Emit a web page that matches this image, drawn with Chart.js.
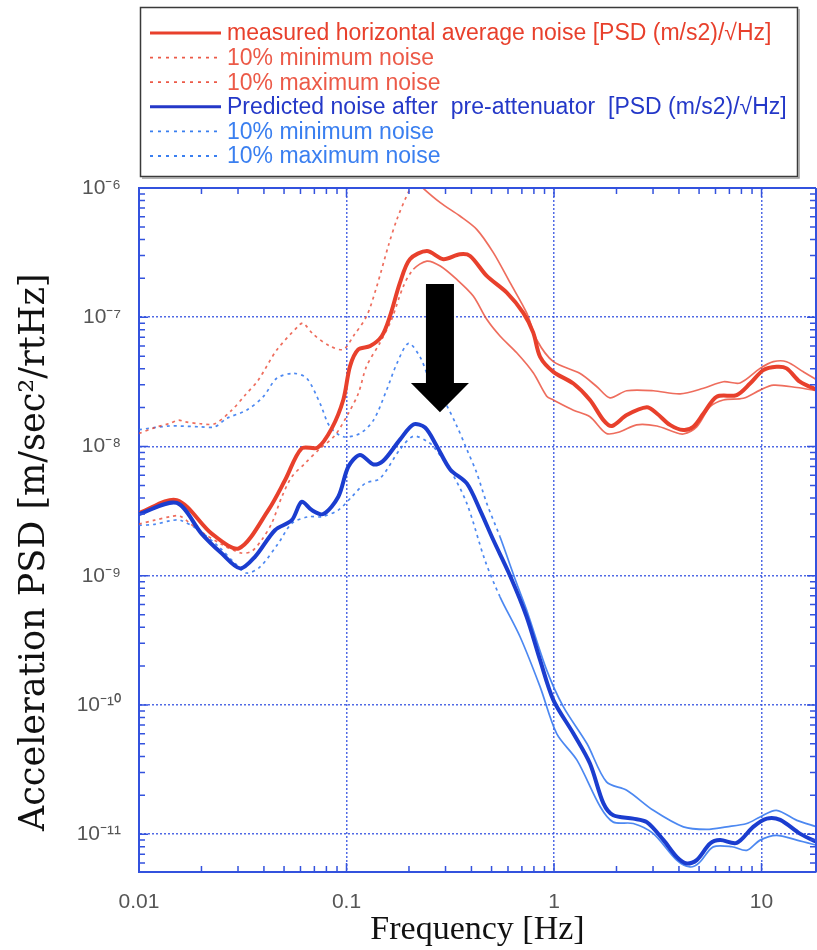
<!DOCTYPE html>
<html>
<head>
<meta charset="utf-8">
<script src="https://cdn.jsdelivr.net/npm/chart.js@4.4.1/dist/chart.umd.min.js"></script>
<style>
  html, body { margin: 0; padding: 0; background: #fff; }
  #wrap { width: 817px; height: 950px; }
</style>
</head>
<body>
<div id="wrap"><canvas id="psd" width="817" height="950"></canvas></div>
<script>
// measured horizontal noise (red)
const measAvgFreq = [0.01, 0.0152, 0.0224, 0.0303, 0.042, 0.0506, 0.0608, 0.0726, 0.0849, 0.0966, 0.104, 0.114, 0.130, 0.148, 0.162, 0.181, 0.202, 0.244, 0.293, 0.352, 0.394, 0.474, 0.592, 0.711, 0.794, 0.857, 0.993, 1.24, 1.49, 1.73, 1.90, 2.24, 2.80, 3.13, 3.62, 4.20, 4.69, 5.25, 6.08, 7.59, 8.80, 10.2, 11.8, 13.2, 15.3, 17.8, 19];
const measAvg = [3.05e-9, 3.85e-9, 2.12e-9, 1.63e-9, 3.22e-9, 5.5e-9, 9.66e-9, 9.8e-9, 1.38e-8, 2.31e-8, 4.19e-8, 5.64e-8, 5.98e-8, 7.16e-8, 1.02e-7, 1.85e-7, 2.81e-7, 3.25e-7, 2.81e-7, 3.07e-7, 2.98e-7, 2.09e-7, 1.55e-7, 1.08e-7, 7.6e-8, 4.94e-8, 3.78e-8, 3.07e-8, 2.29e-8, 1.60e-8, 1.44e-8, 1.75e-8, 2.01e-8, 1.80e-8, 1.47e-8, 1.34e-8, 1.42e-8, 1.80e-8, 2.43e-8, 2.50e-8, 3.07e-8, 3.90e-8, 4.14e-8, 4.02e-8, 3.17e-8, 2.82e-8, 2.75e-8];

const measMinFreq = [0.01, 0.0119, 0.0141, 0.0158, 0.019, 0.025, 0.031, 0.035, 0.039, 0.0436, 0.0488, 0.0545, 0.063, 0.0732, 0.088, 0.102, 0.114, 0.125, 0.145, 0.165, 0.188, 0.210, 0.244, 0.283, 0.340, 0.408, 0.474, 0.549, 0.661, 0.794, 0.922, 0.993, 1.24, 1.49, 1.79, 2.08, 2.50, 3.13, 3.76, 4.20, 4.87, 5.65, 6.55, 8.17, 9.84, 11.4, 14.8, 18.5, 19];
const measMin = [2.51e-9, 2.69e-9, 2.86e-9, 2.89e-9, 2.3e-9, 1.75e-9, 1.5e-9, 1.55e-9, 1.89e-9, 2.54e-9, 4.08e-9, 5.83e-9, 7.39e-9, 9.38e-9, 1.22e-8, 1.80e-8, 2.57e-8, 4.19e-8, 6.35e-8, 9.64e-8, 1.74e-7, 2.35e-7, 2.72e-7, 2.49e-7, 1.96e-7, 1.46e-7, 9.64e-8, 7.16e-8, 5.31e-8, 3.72e-8, 2.45e-8, 2.29e-8, 1.91e-8, 1.70e-8, 1.26e-8, 1.30e-8, 1.47e-8, 1.44e-8, 1.30e-8, 1.25e-8, 1.42e-8, 2.03e-8, 2.29e-8, 2.36e-8, 2.73e-8, 2.98e-8, 2.86e-8, 2.70e-8, 2.68e-8];

const measMaxFreq = [0.01, 0.0119, 0.0141, 0.0155, 0.0167, 0.0197, 0.0232, 0.028, 0.0325, 0.0376, 0.0461, 0.0597, 0.062, 0.0692, 0.0832, 0.0966, 0.108, 0.125, 0.140, 0.159, 0.175, 0.200, 0.215, 0.230, 0.283, 0.352, 0.424, 0.510, 0.614, 0.738, 0.826, 0.993, 1.33, 1.61, 1.86, 2.24, 3.01, 4.05, 5.25, 6.55, 7.88, 9.84, 11.4, 13.2, 15.9, 18.5, 19];
const measMax = [1.26e-8, 1.40e-8, 1.51e-8, 1.60e-8, 1.55e-8, 1.50e-8, 1.50e-8, 1.91e-8, 2.50e-8, 3.27e-8, 5.57e-8, 8.8e-8, 9.0e-8, 7.38e-8, 5.98e-8, 5.64e-8, 7.16e-8, 1.02e-7, 1.74e-7, 3.56e-7, 5.73e-7, 9.5e-7, 1.15e-6, 1.02e-6, 7.7e-7, 6.07e-7, 4.79e-7, 3.16e-7, 1.85e-7, 1.08e-7, 6.67e-8, 4.53e-8, 3.68e-8, 2.90e-8, 2.38e-8, 2.70e-8, 2.70e-8, 2.55e-8, 2.82e-8, 3.17e-8, 3.1e-8, 4.02e-8, 4.53e-8, 4.53e-8, 3.78e-8, 3.27e-8, 3.2e-8];

// predicted noise after pre-attenuator (blue)
const predAvgFreq = [0.01, 0.0152, 0.02, 0.025, 0.0307, 0.0362, 0.0452, 0.0545, 0.0608, 0.068, 0.0773, 0.0913, 0.102, 0.116, 0.135, 0.150, 0.181, 0.210, 0.239, 0.272, 0.316, 0.380, 0.440, 0.510, 0.614, 0.738, 0.857, 0.993, 1.24, 1.49, 1.73, 1.93, 2.41, 2.80, 3.37, 3.90, 4.36, 4.87, 5.65, 6.31, 7.59, 9.12, 10.6, 12.3, 15.3, 18.5, 19];
const predAvg = [3.0e-9, 3.66e-9, 2.12e-9, 1.49e-9, 1.14e-9, 1.40e-9, 2.25e-9, 2.69e-9, 3.73e-9, 3.22e-9, 3.0e-9, 4.08e-9, 6.97e-9, 8.6e-9, 7.26e-9, 7.71e-9, 1.13e-8, 1.48e-8, 1.40e-8, 1.01e-8, 6.65e-9, 5.18e-9, 3.22e-9, 1.89e-9, 1.0e-9, 4.81e-10, 2.22e-10, 1.09e-10, 6.01e-11, 3.52e-11, 1.73e-11, 1.40e-11, 1.32e-11, 1.24e-11, 9.0e-12, 6.68e-12, 5.93e-12, 6.3e-12, 8.47e-12, 9.0e-12, 8.57e-12, 1.14e-11, 1.32e-11, 1.29e-11, 1.01e-11, 8.7e-12, 8.6e-12];

const predMinFreq = [0.01, 0.0119, 0.0141, 0.0158, 0.019, 0.024, 0.029, 0.033, 0.0383, 0.0469, 0.0545, 0.0655, 0.0759, 0.0913, 0.106, 0.123, 0.145, 0.181, 0.210, 0.244, 0.262, 0.316, 0.380, 0.466, 0.549, 0.686, 0.857, 1.03, 1.29, 1.67, 1.93, 2.41, 3.01, 3.90, 4.52, 5.0, 5.85, 7.2, 8.49, 9.84, 11.8, 14.8, 18.5, 19];
const predMin = [2.45e-9, 2.5e-9, 2.66e-9, 2.69e-9, 2.3e-9, 1.7e-9, 1.25e-9, 1.05e-9, 1.17e-9, 1.78e-9, 2.54e-9, 2.86e-9, 2.86e-9, 3.22e-9, 4.08e-9, 5.18e-9, 5.66e-9, 9.5e-9, 1.2e-8, 1.10e-8, 1.0e-8, 6.56e-9, 3.63e-9, 1.3e-9, 6.87e-10, 3.37e-10, 1.38e-10, 6.0e-11, 3.74e-11, 1.63e-11, 1.24e-11, 1.21e-11, 1.01e-11, 6.3e-12, 5.58e-12, 6.0e-12, 7.98e-12, 8.0e-12, 7.5e-12, 9.0e-12, 9.8e-12, 9.0e-12, 8.2e-12, 8.1e-12];

const predMaxFreq = [0.01, 0.0141, 0.0197, 0.0232, 0.0265, 0.033, 0.0397, 0.0461, 0.0555, 0.0643, 0.0745, 0.0832, 0.0966, 0.116, 0.135, 0.156, 0.175, 0.199, 0.226, 0.252, 0.293, 0.340, 0.380, 0.424, 0.474, 0.549, 0.661, 0.738, 0.922, 1.11, 1.44, 1.79, 2.24, 3.01, 4.20, 5.44, 6.79, 8.49, 9.84, 11.8, 14.8, 18.5, 19];
const predMax = [1.35e-8, 1.44e-8, 1.42e-8, 1.42e-8, 1.65e-8, 1.91e-8, 2.43e-8, 3.37e-8, 3.68e-8, 3.37e-8, 2.16e-8, 1.42e-8, 1.19e-8, 1.26e-8, 1.60e-8, 2.73e-8, 4.40e-8, 6.28e-8, 4.94e-8, 3.27e-8, 2.31e-8, 1.44e-8, 9.5e-9, 6.25e-9, 3.63e-9, 2.0e-9, 8.7e-10, 5.42e-10, 1.86e-10, 9.66e-11, 5.03e-11, 2.54e-11, 2.19e-11, 1.53e-11, 1.14e-11, 1.09e-11, 1.14e-11, 1.21e-11, 1.36e-11, 1.53e-11, 1.28e-11, 1.14e-11, 1.12e-11];

// axes
const xMin = 0.01, xMax = 18.3;
const yMin = 5.1e-12, yMax = 1e-6;
const xTickValues = [0.01, 0.1, 1, 10];
const xTickLabels = ['0.01', '0.1', '1', '10'];
const yTickValues = [1e-6, 1e-7, 1e-8, 1e-9, 1e-10, 1e-11];
const yTickLabels = ['10⁻⁶', '10⁻⁷', '10⁻⁸', '10⁻⁹', '10⁻¹⁰', '10⁻¹¹'];

// the big arrow: frequency, top of shaft, base of head, tip
const arrowFreq = 0.282, arrowTop = 1.81e-7, arrowHead = 3.1e-8, arrowTip = 1.84e-8;

const RED = '#e8402c';
const RED_THIN = 'rgba(234,72,52,0.8)';
const BLUE = '#1b3dcf';
const BLUE_THIN = 'rgba(45,115,238,0.85)';
const AXIS = '#3352de';
const GRID = 'rgba(50,80,225,0.85)';

const pts = (xs, ys) => xs.map((x, i) => ({ x, y: ys[i] }));
const dottedBelow = limit => ctx => ctx.p0.parsed.x < limit ? [3, 4] : undefined;
const sameDecade = (v, t) => Math.abs(Math.log10(v) - Math.log10(t)) < 1e-6;
const isDecade = v => Math.abs(Math.log10(v) - Math.round(Math.log10(v))) < 1e-6;
const isNice = v => { const m = v / Math.pow(10, Math.floor(Math.log10(v) + 1e-9)); return Math.abs(m - Math.round(m)) < 1e-6; };

function thin(label, xs, ys, color, legendColor, limit) {
  return { label, data: pts(xs, ys), borderColor: color, borderWidth: 1.7, borderDash: [],
    legendColor, legendDash: [3, 5], legendWidth: 1.8, order: 2,
    segment: { borderDash: dottedBelow(limit) } };
}

const datasets = [
  { label: 'measured horizontal average noise [PSD (m/s2)/√Hz]', data: pts(measAvgFreq, measAvg),
    borderColor: RED, borderWidth: 4, legendColor: RED, legendDash: [], legendWidth: 3, order: 1 },
  thin('10% minimum noise', measMinFreq, measMin, RED_THIN, '#ec5a48', 0.2),
  thin('10% maximum noise', measMaxFreq, measMax, RED_THIN, '#ec5a48', 0.22),
  { label: 'Predicted noise after  pre-attenuator  [PSD (m/s2)/√Hz]', data: pts(predAvgFreq, predAvg),
    borderColor: BLUE, borderWidth: 4, legendColor: '#2438c8', legendDash: [], legendWidth: 3, order: 0 },
  thin('10% minimum noise', predMinFreq, predMin, BLUE_THIN, '#3a7ff0', 0.5),
  thin('10% maximum noise', predMaxFreq, predMax, BLUE_THIN, '#3a7ff0', 0.5)
];

// inward tick marks and top / right frame
const frameTicks = {
  id: 'frameTicks',
  afterDatasetsDraw(chart) {
    const { ctx, chartArea: a, scales: { x, y } } = chart;
    ctx.save();
    ctx.strokeStyle = AXIS;
    ctx.lineWidth = 1.5;
    ctx.beginPath();
    x.ticks.forEach(t => {
      if (!isNice(t.value)) return;
      const px = x.getPixelForValue(t.value);
      const len = isDecade(t.value) ? 9 : 6;
      ctx.moveTo(px, a.bottom); ctx.lineTo(px, a.bottom - len);
      ctx.moveTo(px, a.top); ctx.lineTo(px, a.top + len);
    });
    y.ticks.forEach(t => {
      if (!isNice(t.value)) return;
      const py = y.getPixelForValue(t.value);
      const len = isDecade(t.value) ? 9 : 6;
      ctx.moveTo(a.left, py); ctx.lineTo(a.left + len, py);
      ctx.moveTo(a.right, py); ctx.lineTo(a.right - len, py);
    });
    ctx.stroke();
    ctx.lineWidth = 2;
    ctx.beginPath();
    ctx.moveTo(a.left, a.top); ctx.lineTo(a.right, a.top);
    ctx.moveTo(a.right, a.top); ctx.lineTo(a.right, a.bottom);
    ctx.stroke();
    ctx.restore();
  }
};

const bigArrow = {
  id: 'bigArrow',
  afterDatasetsDraw(chart) {
    const { ctx, scales: { x, y } } = chart;
    const cx = x.getPixelForValue(arrowFreq);
    const top = y.getPixelForValue(arrowTop);
    const head = y.getPixelForValue(arrowHead);
    const tip = y.getPixelForValue(arrowTip);
    ctx.save();
    ctx.fillStyle = '#000';
    ctx.beginPath();
    ctx.moveTo(cx - 14, top); ctx.lineTo(cx + 14, top);
    ctx.lineTo(cx + 14, head); ctx.lineTo(cx + 29, head);
    ctx.lineTo(cx, tip); ctx.lineTo(cx - 29, head);
    ctx.lineTo(cx - 14, head); ctx.closePath();
    ctx.fill();
    ctx.restore();
  }
};

// boxed legend above the plot
const boxLegend = {
  id: 'boxLegend',
  afterDraw(chart) {
    const { ctx } = chart;
    ctx.save();
    ctx.fillStyle = '#fff';
    ctx.fillRect(141, 8, 656, 168);
    ctx.strokeStyle = '#3a3a3a';
    ctx.lineWidth = 1.5;
    ctx.strokeRect(140.5, 7.5, 657, 169);
    ctx.strokeStyle = '#9a9a9a';
    ctx.lineWidth = 1.5;
    ctx.beginPath();
    ctx.moveTo(799, 9); ctx.lineTo(799, 178); ctx.lineTo(142, 178);
    ctx.stroke();
    ctx.font = '23px "Liberation Sans", Arial, sans-serif';
    ctx.textBaseline = 'middle';
    chart.data.datasets.forEach((ds, i) => {
      const yy = 33 + i * 24.6;
      ctx.strokeStyle = ds.legendColor;
      ctx.lineWidth = ds.legendWidth;
      ctx.setLineDash(ds.legendDash);
      ctx.beginPath();
      ctx.moveTo(150, yy); ctx.lineTo(221, yy);
      ctx.stroke();
      ctx.setLineDash([]);
      ctx.fillStyle = ds.legendColor;
      ctx.fillText(ds.label, 227, yy + 1);
    });
    ctx.restore();
  }
};

Chart.defaults.font.family = '"Liberation Sans", Arial, sans-serif';

new Chart(document.getElementById('psd').getContext('2d'), {
  type: 'line',
  data: { datasets },
  options: {
    responsive: false,
    animation: false,
    events: [],
    layout: { padding: { top: 188, right: 1, left: 0, bottom: 0 } },
    elements: { point: { radius: 0 }, line: { tension: 0.3 } },
    plugins: { legend: { display: false }, tooltip: { enabled: false } },
    scales: {
      x: {
        type: 'logarithmic', min: xMin, max: xMax,
        afterFit: s => { s.height = 78; s.paddingLeft = 0; s.paddingRight = 0; },
        grid: { drawTicks: false, lineWidth: 1.5,
          color: c => (c.tick && isDecade(c.tick.value)) ? GRID : 'rgba(0,0,0,0)' },
        border: { color: AXIS, width: 2, dash: [2, 2] },
        ticks: { autoSkip: false, maxRotation: 0, padding: 18, color: '#555', font: { size: 21 },
          callback: v => { const i = xTickValues.findIndex(t => sameDecade(v, t)); return i < 0 ? '' : xTickLabels[i]; } },
        title: { display: true, text: 'Frequency [Hz]', color: '#111',
          font: { family: '"Liberation Serif", serif', size: 34 }, padding: { top: 0, bottom: 0 } }
      },
      y: {
        type: 'logarithmic', min: yMin, max: yMax,
        afterFit: s => { s.width = 139; },
        grid: { drawTicks: false, lineWidth: 1.5,
          color: c => (c.tick && isDecade(c.tick.value)) ? GRID : 'rgba(0,0,0,0)' },
        border: { color: AXIS, width: 2, dash: [2, 2] },
        ticks: { autoSkip: false, padding: 18, color: '#555', font: { size: 21 },
          callback: v => { const i = yTickValues.findIndex(t => sameDecade(v, t)); return i < 0 ? '' : yTickLabels[i]; } },
        title: { display: true, text: 'Acceleration PSD [m/sec²/rtHz]    ', color: '#111',
          font: { family: '"DejaVu Serif", serif', size: 35 }, padding: { top: 14, bottom: 0 } }
      }
    }
  },
  plugins: [frameTicks, bigArrow, boxLegend]
});
</script>
</body>
</html>
